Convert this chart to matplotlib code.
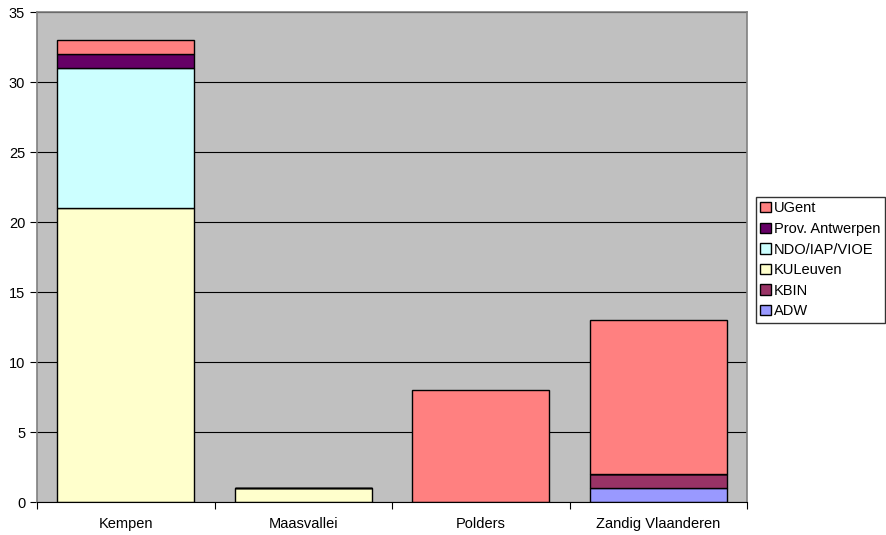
import matplotlib.pyplot as plt
from matplotlib.patches import Patch
import numpy as np

plt.rcParams['font.family'] = ['Liberation Sans', 'DejaVu Sans']

regions = ['Kempen', 'Maasvallei', 'Polders', 'Zandig Vlaanderen']
# stacked from bottom to top
series = ['ADW', 'KBIN', 'KULeuven', 'NDO/IAP/VIOE', 'Prov. Antwerpen', 'UGent']
adw = [0, 0, 0, 1]
kbin = [0, 0, 0, 1]
kuleuven = [21, 1, 0, 0]
ndo = [10, 0, 0, 0]
prov_antw = [1, 0, 0, 0]
ugent = [1, 0, 8, 11]
colors = ['#9999FF', '#993366', '#FFFFCC', '#CCFFFF', '#660066', '#FF8080']

values = [adw, kbin, kuleuven, ndo, prov_antw, ugent]

fig = plt.figure(figsize=(8.86, 5.35), dpi=100)
ax = fig.add_axes([37/886, 33/535, 710/886, 490/535])
ax.set_facecolor('#C0C0C0')

x = np.arange(len(regions)) + 0.5
bottom = np.zeros(len(regions))
for name, vals, col in zip(series, values, colors):
    vals = np.array(vals, dtype=float)
    ax.bar(x, vals, width=0.77, bottom=bottom, color=col, edgecolor='black',
           linewidth=1, zorder=3)
    bottom += vals

ax.set_xlim(0, len(regions))
ax.set_ylim(0, 35)
ax.set_yticks(range(0, 36, 5))
ax.yaxis.grid(True, color='black', linewidth=0.8, zorder=0)
ax.set_axisbelow(True)

ax.set_xticks(np.arange(len(regions) + 1))
ax.set_xticklabels([])
ax.set_xticks(x, minor=True)
ax.set_xticklabels(regions, minor=True)
ax.tick_params(axis='x', which='minor', length=0, pad=11, labelsize=10.5)
ax.tick_params(axis='x', which='major', length=5, direction='out')
ax.tick_params(axis='y', length=5, direction='out', labelsize=10.5)

for s in ['top', 'right', 'left']:
    ax.spines[s].set_color('#808080')
    ax.spines[s].set_linewidth(1.2)
    ax.spines[s].set_zorder(4)
ax.spines['bottom'].set_color('black')
ax.spines['bottom'].set_zorder(4)

handles = [Patch(facecolor=c, edgecolor='black', label=n)
           for n, c in zip(series, colors)]
handles = handles[::-1]
leg = fig.legend(handles=handles, loc='upper left',
                 bbox_to_anchor=(756/886, 1 - 197/535),
                 frameon=True, fancybox=False, edgecolor='black',
                 fontsize=10.5, handlelength=0.7, handleheight=0.7,
                 handletextpad=0.25, borderpad=0.3, labelspacing=0.45,
                 borderaxespad=0)
leg.get_frame().set_linewidth(1)

fig.savefig('out.png', dpi=100)
